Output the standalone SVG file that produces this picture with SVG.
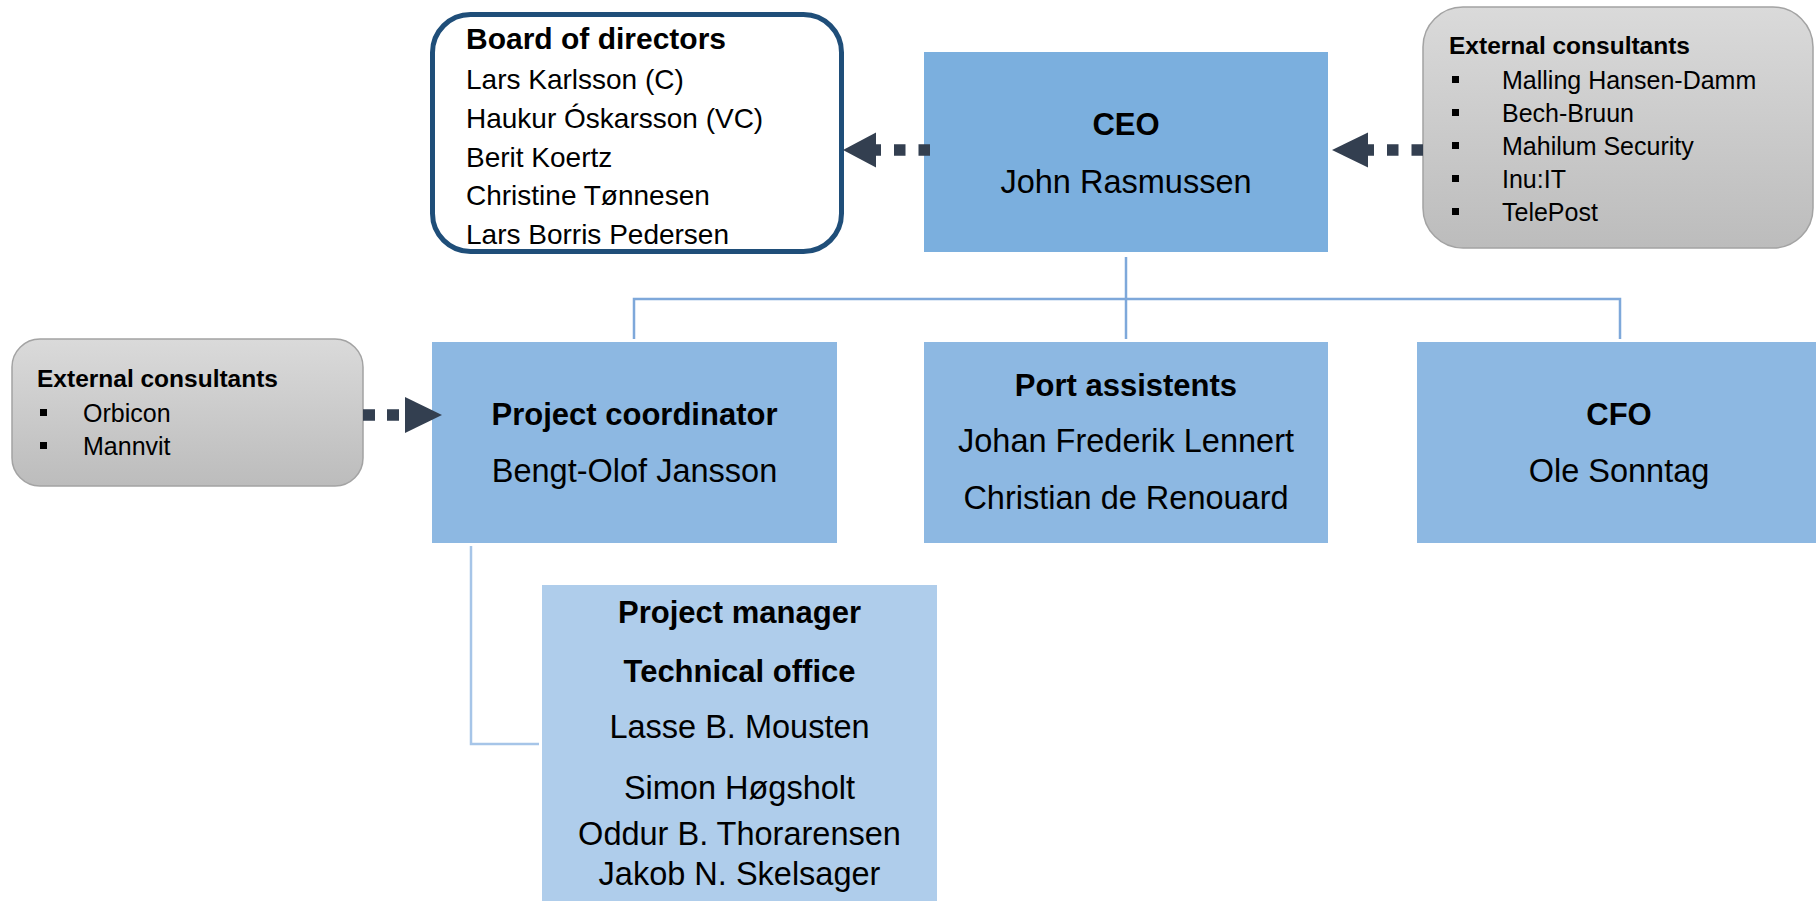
<svg xmlns="http://www.w3.org/2000/svg" width="1816" height="901" viewBox="0 0 1816 901">
<style>
text{font-family:"Liberation Sans",Arial,sans-serif;fill:#000}
.b{font-weight:bold}
.t31{font-size:31px}
.t32{font-size:32.5px}
.c{text-anchor:middle}
.box1{fill:#7BAFDE}
.box2{fill:#8DB8E2}
.box3{fill:#AFCDEB}
.ext{fill:url(#gg);stroke:#A3A3A3;stroke-width:1.5}
.et{font-size:24.5px;font-weight:bold}
.ei{font-size:25px}
.blt{fill:#000}
.conn{fill:none;stroke:#7EA8DA;stroke-width:2.5}
.conn2{fill:none;stroke:#A6C5E8;stroke-width:2.5}
.dash{stroke:#333F50;stroke-width:11.5;stroke-dasharray:11.5 13;fill:none}
.head{fill:#333F50}
</style>
<defs>
<linearGradient id="gg" x1="0" y1="0" x2="0" y2="1">
<stop offset="0" stop-color="#DADADA"/>
<stop offset="1" stop-color="#BCBCBC"/>
</linearGradient>
</defs>
<rect width="1816" height="901" fill="#fff"/>

<g id="board">
<rect x="432.5" y="14.5" width="409" height="237" rx="38" fill="#fff" stroke="#1F4E79" stroke-width="5"/>
<text x="466" y="49" class="b" font-size="30">Board of directors</text>
<text x="466" y="89" font-size="28">Lars Karlsson (C)</text>
<text x="466" y="128" font-size="28">Haukur Óskarsson (VC)</text>
<text x="466" y="167" font-size="28">Berit Koertz</text>
<text x="466" y="205" font-size="28">Christine Tønnesen</text>
<text x="466" y="244" font-size="28">Lars Borris Pedersen</text>
</g>

<g id="ceo">
<rect class="box1" x="924" y="52" width="404" height="200"/>
<text x="1126" y="135" class="b t31 c">CEO</text>
<text x="1126" y="193" class="t32 c">John Rasmussen</text>
</g>

<g id="ext-right">
<rect class="ext" x="1423" y="7" width="390" height="241" rx="40"/>
<text x="1449" y="54" class="et">External consultants</text>
<rect class="blt" x="1452" y="76" width="7" height="7"/>
<rect class="blt" x="1452" y="109" width="7" height="7"/>
<rect class="blt" x="1452" y="142" width="7" height="7"/>
<rect class="blt" x="1452" y="175" width="7" height="7"/>
<rect class="blt" x="1452" y="208" width="7" height="7"/>
<text x="1502" y="89" class="ei">Malling Hansen-Damm</text>
<text x="1502" y="122" class="ei">Bech-Bruun</text>
<text x="1502" y="155" class="ei">Mahilum Security</text>
<text x="1502" y="188" class="ei">Inu:IT</text>
<text x="1502" y="221" class="ei">TelePost</text>
</g>

<g id="ext-left">
<rect class="ext" x="12" y="339" width="351" height="147" rx="28"/>
<text x="37" y="387" class="et">External consultants</text>
<rect class="blt" x="40" y="409" width="7" height="7"/>
<rect class="blt" x="40" y="442" width="7" height="7"/>
<text x="83" y="422" class="ei">Orbicon</text>
<text x="83" y="455" class="ei">Mannvit</text>
</g>

<g id="project-coordinator">
<rect class="box2" x="432" y="342" width="405" height="201"/>
<text x="634.5" y="425" class="b t31 c">Project coordinator</text>
<text x="634.5" y="482" class="t32 c">Bengt-Olof Jansson</text>
</g>

<g id="port-assistents">
<rect class="box2" x="924" y="342" width="404" height="201"/>
<text x="1126" y="396" class="b t31 c">Port assistents</text>
<text x="1126" y="452" class="t32 c">Johan Frederik Lennert</text>
<text x="1126" y="509" class="t32 c">Christian de Renouard</text>
</g>

<g id="cfo">
<rect class="box2" x="1417" y="342" width="404" height="201"/>
<text x="1619" y="425" class="b t31 c">CFO</text>
<text x="1619" y="482" class="t32 c">Ole Sonntag</text>
</g>

<g id="project-manager">
<rect class="box3" x="542" y="585" width="395" height="320"/>
<text x="739.5" y="623" class="b t31 c">Project manager</text>
<text x="739.5" y="682" class="b t31 c">Technical office</text>
<text x="739.5" y="738" class="t32 c">Lasse B. Mousten</text>
<text x="739.5" y="799" class="t32 c">Simon Høgsholt</text>
<text x="739.5" y="845" class="t32 c">Oddur B. Thorarensen</text>
<text x="739.5" y="885" class="t32 c">Jakob N. Skelsager</text>
</g>

<g id="connectors">
<path class="conn" d="M1126 257V339"/>
<path class="conn" d="M634 339V299H1620V339"/>
<path class="conn2" d="M471 546V744H539"/>
<line class="dash" x1="930" y1="150" x2="870" y2="150"/>
<polygon class="head" points="843,150 876,132.5 876,167.5"/>
<line class="dash" x1="1423" y1="150" x2="1362" y2="150"/>
<polygon class="head" points="1332,150 1368,132.5 1368,167.5"/>
<line class="dash" x1="363" y1="415" x2="406" y2="415" style="stroke-dasharray:12 12"/>
<polygon class="head" points="442,415 405,397 405,433"/>
</g>
</svg>
